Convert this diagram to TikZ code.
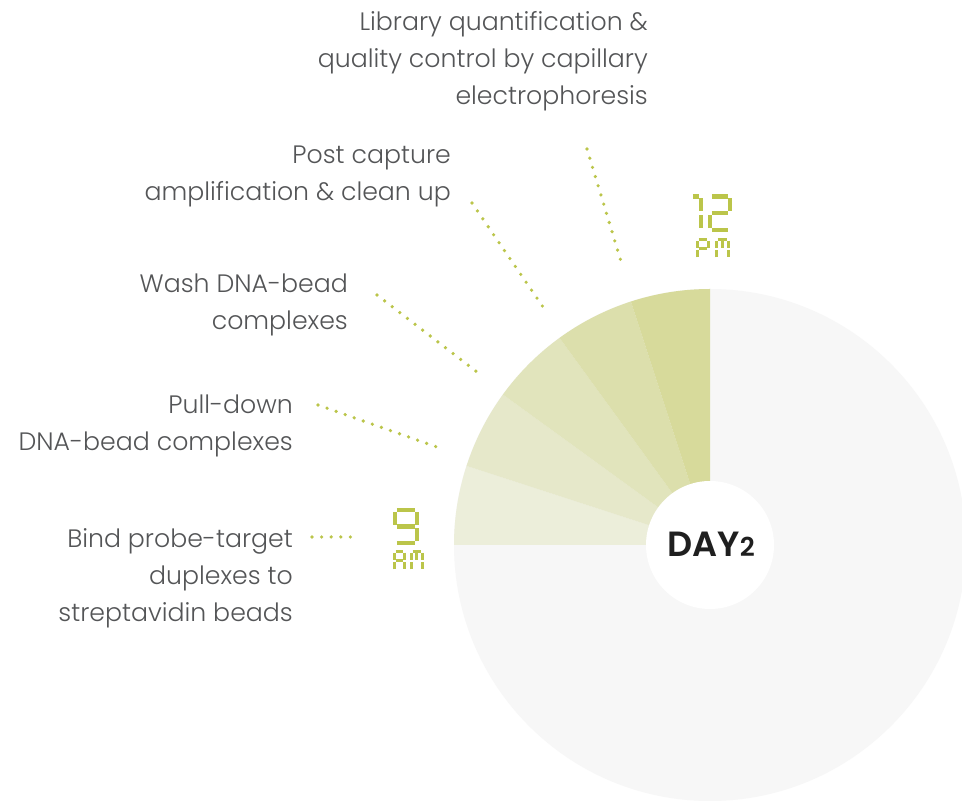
\documentclass[tikz,border=0pt]{standalone}
\usepackage{fontspec}
\setmainfont{Poppins Light}
\newfontfamily\dayfont{Poppins SemiBold}

\definecolor{lime}{RGB}{187,197,74}
\definecolor{labelgray}{RGB}{84,85,87}
\definecolor{dialgray}{RGB}{247,247,247}
\definecolor{slotA}{RGB}{236,238,218}
\definecolor{slotB}{RGB}{230,232,202}
\definecolor{slotC}{RGB}{225,228,188}
\definecolor{slotD}{RGB}{220,223,172}
\definecolor{slotE}{RGB}{215,218,155}

% seven-segment glyphs, unit box with origin bottom left
\def\gone{0/1/1/1,1/1/1/.5,1/.5/1/0}
\def\gtwo{0/1/1/1,1/1/1/.5,0/.5/1/.5,0/0/0/.5,0/0/1/0}
\def\gnine{0/1/1/1,1/1/1/.5,1/.5/1/0,0/0/1/0,0/.5/0/1,0/.5/1/.5}
\def\gP{0/1/1/1,1/1/1/.5,0/.5/1/.5,0/0/0/.5,0/.5/0/1}
\def\gA{0/1/1/1,1/1/1/.5,1/.5/1/0,0/.5/1/.5,0/0/0/.5,0/.5/0/1}
\def\gM{0/1/1/1,1/1/1/.5,1/.5/1/0,0/0/0/.5,0/.5/0/1,.5/1/.5/.5}

\newcommand\lcdglyph[6][lcdbig]{%
  \begin{scope}[shift={(#2,#3)},x=#4pt,y=#5pt]
    \foreach \xa/\ya/\xb/\yb in #6 {\draw[#1] (\xa,\ya) -- (\xb,\yb);}
  \end{scope}}

\tikzset{
  lcdbig/.style={draw=lime,line width=4.3pt,shorten <=1.8pt,shorten >=1.8pt},
  lcdsmall/.style={draw=lime,line width=3pt,shorten <=1.2pt,shorten >=1.2pt},
  steplabel/.style={text=labelgray,font=\fontsize{25.2}{37}\selectfont,
    align=right,inner sep=0pt,anchor=east},
  leader/.style={draw=lime,line width=3.6pt,line cap=round,dash pattern=on 0pt off 9.6pt}
}

\begin{document}
\begin{tikzpicture}[x=1pt,y=1pt]
\useasboundingbox (0,0) rectangle (962,801);
\fill[white] (0,0) rectangle (962,801);
\coordinate (dial) at (710,256);

\begin{scope}
\clip (0,0) rectangle (962,801);
\fill[dialgray] (dial) circle[radius=256];
\foreach \i/\c in {0/slotA,1/slotB,2/slotC,3/slotD,4/slotE}
  \fill[\c] (dial) -- ++(180-18*\i:256) arc[start angle=180-18*\i,end angle=162-18*\i,radius=256] -- cycle;
\end{scope}
\fill[white] (dial) circle[radius=64];
\node[font=\dayfont\fontsize{35}{35}\selectfont,text=black!88] (day) at (711,257)
  {DAY{\fontsize{26}{26}\selectfont 2}};

% step labels
\node[steplabel] (lib) at (648,740) {Library quantification \&\\quality control by capillary\\electrophoresis};
\node[steplabel] (post) at (451,625) {Post capture\\amplification \& clean up};
\node[steplabel] (wash) at (348,496) {Wash DNA-bead\\complexes};
\node[steplabel] (pull) at (293,375) {Pull-down\\DNA-bead complexes};
\node[steplabel] (bind) at (293,223) {Bind probe-target\\duplexes to\\streptavidin beads};

% leader ends
\coordinate (lib-a) at (587,652);  \coordinate (lib-b) at (623,533);
\coordinate (post-a) at (472,598); \coordinate (post-b) at (543,494);
\coordinate (wash-a) at (377,506); \coordinate (wash-b) at (477,429);
\coordinate (pull-a) at (318,396); \coordinate (pull-b) at (437,354);
\coordinate (bind-a) at (312,264); \coordinate (bind-b) at (352,264);
\foreach \s in {lib,post,wash,pull,bind}
  \draw[leader] (\s-a) -- (\s-b);

% clock times
\lcdglyph{691}{571}{10}{33.5}{\gone}
\lcdglyph{710}{571}{20}{33.5}{\gtwo}
\lcdglyph[lcdsmall]{697.5}{542.5}{10.5}{19}{\gP}
\lcdglyph[lcdsmall]{716.5}{542.5}{12}{19}{\gM}
\lcdglyph{395}{258}{22}{33}{\gnine}
\lcdglyph[lcdsmall]{394.5}{230.5}{10}{19}{\gA}
\lcdglyph[lcdsmall]{411.5}{230.5}{10.5}{19}{\gM}
\end{tikzpicture}
\end{document}
